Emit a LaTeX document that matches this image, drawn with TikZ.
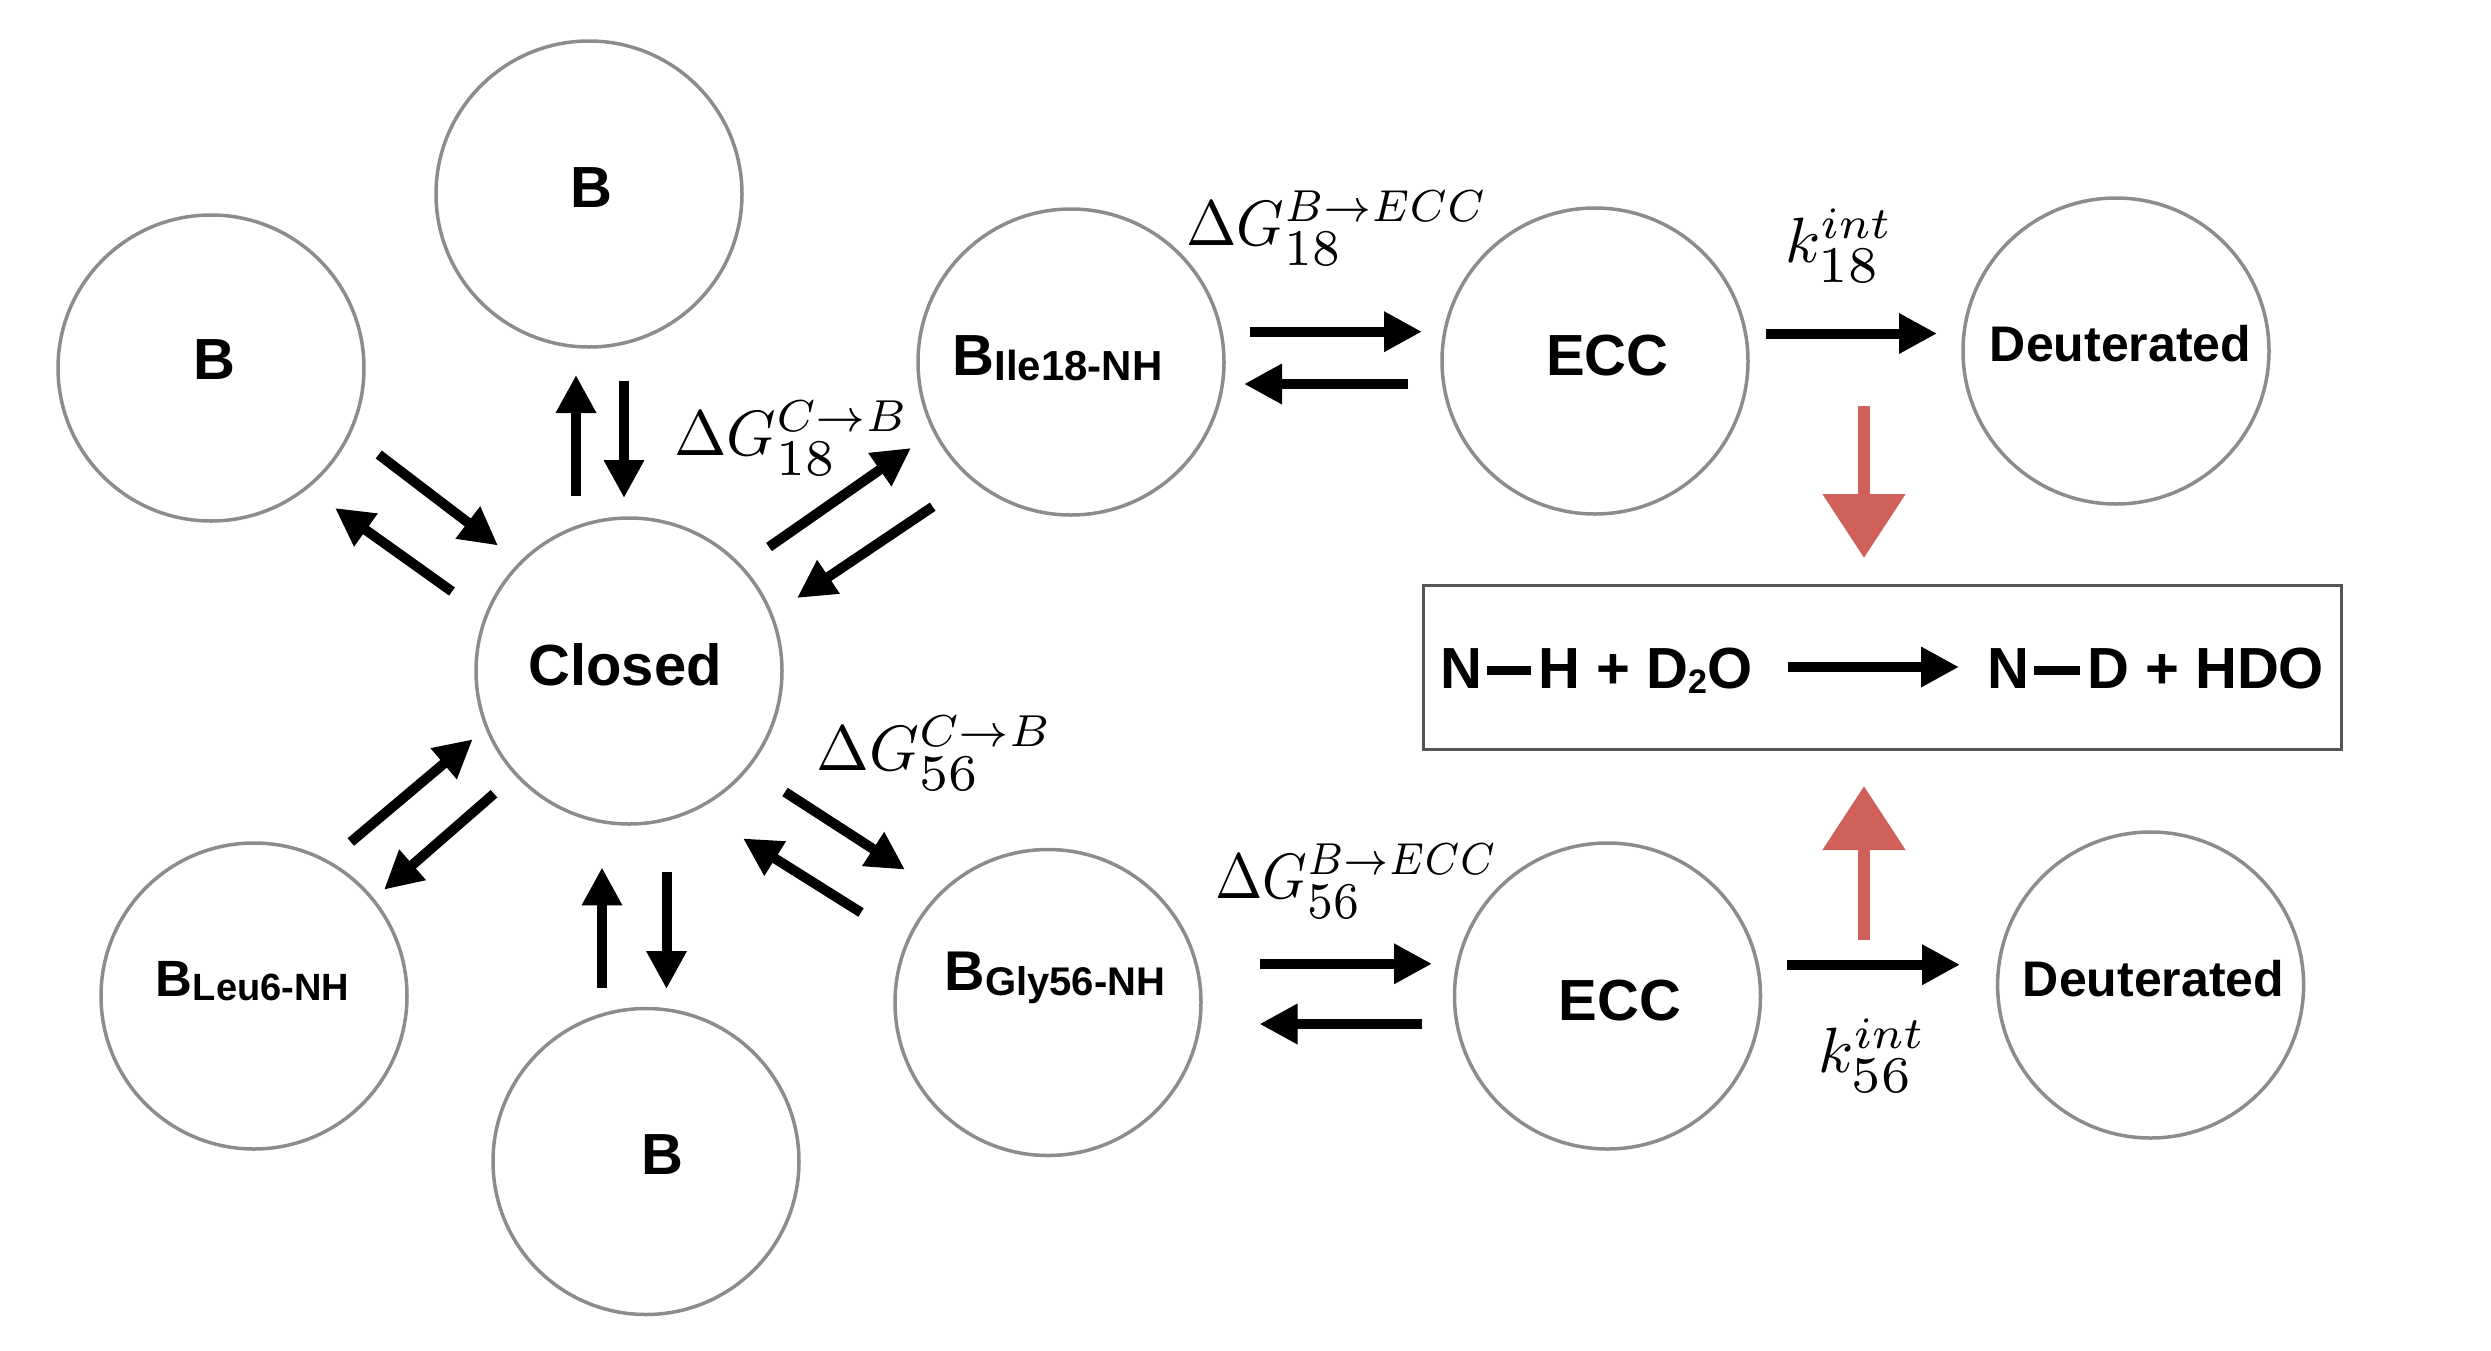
\documentclass[tikz,border=0pt]{standalone}
\usepackage[no-math]{fontspec}
\newfontfamily\hv{Liberation Sans}
\usetikzlibrary{arrows.meta}
\definecolor{circgray}{HTML}{8A8C90}
\definecolor{boxgray}{HTML}{555555}
\definecolor{redc}{HTML}{D0605A}
\tikzset{
  state/.style={circle, draw=circgray, line width=1.75pt, minimum size=153pt, inner sep=0pt},
  lbl/.style={anchor=base, inner sep=0pt, font=\hv\bfseries\fontsize{29}{34}\selectfont},
  dlbl/.style={anchor=base, inner sep=0pt, font=\hv\bfseries\fontsize{25}{30}\selectfont},
  arr/.style={line width=5pt, -{Triangle[length=19pt,width=19pt]}},
  redarr/.style={draw=redc, line width=6pt, -{Triangle[length=32pt,width=40pt]}},
  mlbl/.style={anchor=base west, inner sep=0pt},
}
\newcommand{\bigmath}[2][3.2]{\scalebox{#1}[3.2]{$#2$}}
\newcommand{\sbs}[1]{\scalebox{1.15}{$\scriptstyle #1$}}
\begin{document}
\begin{tikzpicture}[x=0.5pt, y=-0.5pt]
\useasboundingbox (0,0) rectangle (2491,1350);
% states
\node[state] (btop)  at (589,194) {};
\node[state] (bleft) at (211,368) {};
\node[state] (closed) at (629,671) {};
\node[state] (bile)  at (1071,362) {};
\node[state] (ecc1)  at (1595,361) {};
\node[state] (deut1) at (2116,351) {};
\node[state] (bleu)  at (254,996) {};
\node[state] (bbot)  at (646,1161.5) {};
\node[state] (bgly)  at (1048,1002.5) {};
\node[state] (ecc2)  at (1607.5,996) {};
\node[state] (deut2) at (2150.6,985) {};
% labels
\node[lbl] (tbtop) at (591,207) {B};
\node[lbl] (tbleft) at (214,379.5) {B};
\node[lbl] (tbbot) at (662,1174.5) {B};
\node[lbl] (tclosed) at (625,685) {Closed};
\node[lbl] (tecc1) at (1607.5,375) {ECC};
\node[lbl] (tecc2) at (1620,1020.5) {ECC};
\node[dlbl] (tdeut1) at (2120.5,361.5) {Deuterated};
\node[dlbl] (tdeut2) at (2153.5,996) {Deuterated};
\node[lbl] (tbile) at (1057.5,375) {B\raisebox{-2.5pt}{\fontsize{21}{25}\selectfont Ile18-NH}};
\node[lbl] (tbleu) at (252.5,996.7) {\fontsize{25.5}{30}\selectfont B\raisebox{-1.7pt}{\fontsize{19}{23}\selectfont Leu6-NH}};
\node[lbl] (tbgly) at (1055,990) {\fontsize{28}{33}\selectfont B\raisebox{-2.5pt}{\fontsize{20}{24}\selectfont Gly56-NH}};
% equation box
\node[draw=boxgray, line width=1.5pt, minimum width=459pt, minimum height=82pt, inner sep=0pt] (eqbox) at (1882.5,667.5) {};
\node[anchor=base west, inner sep=0pt, font=\hv\bfseries\fontsize{29}{34}\selectfont] (eql) at (1440,688)
  {N\kern2.5pt\rule[6.5pt]{22pt}{4.5pt}\kern3.5pt H + D\raisebox{-2.5pt}{\fontsize{17}{20}\selectfont 2}O};
\node[anchor=base west, inner sep=0pt, font=\hv\bfseries\fontsize{29}{34}\selectfont] (eqr) at (1987,688)
  {N\kern2.5pt\rule[6.5pt]{23pt}{4.5pt}\kern3.5pt D + HDO};
% math labels
\node[mlbl] (g1) at (674,455) {\bigmath[3.15]{\Delta G^{C\to B}_{\sbs{18}}}};
\node[mlbl] (g2) at (1186,245) {\bigmath[3.03]{\Delta G^{B\to ECC}_{\sbs{18}}}};
\node[mlbl] (g3) at (816,770) {\bigmath[3.17]{\Delta G^{C\to B}_{\sbs{56}}}};
\node[mlbl] (g4) at (1215,898) {\bigmath[2.84]{\Delta G^{B\to ECC}_{\sbs{56}}}};
\node[mlbl] (k1) at (1785,262) {\bigmath{k^{int}_{\sbs{18}}}};
\node[mlbl] (k2) at (1818,1072) {\bigmath{k^{int}_{\sbs{56}}}};
% arrow end points
\coordinate (a1s) at (576,495.5);  \coordinate (a1e) at (576,375);
\coordinate (a2s) at (624,381);    \coordinate (a2e) at (624,498);
\coordinate (a3s) at (378.7,454.5);\coordinate (a3e) at (498,545.5);
\coordinate (a4s) at (452,591.5);  \coordinate (a4e) at (335,508);
\coordinate (a5s) at (769,547);    \coordinate (a5e) at (911,448);
\coordinate (a6s) at (932.7,506.7);\coordinate (a6e) at (797,598);
\coordinate (a7s) at (350.8,842);  \coordinate (a7e) at (472.7,739.3);
\coordinate (a8s) at (494,793.75); \coordinate (a8e) at (384,889.7);
\coordinate (a9s) at (602,988.4);  \coordinate (a9e) at (602,867.4);
\coordinate (a10s) at (666.5,872); \coordinate (a10e) at (666.5,989);
\coordinate (a11s) at (785,792);   \coordinate (a11e) at (905,869.6);
\coordinate (a12s) at (861,912.5); \coordinate (a12e) at (743,838.4);
\coordinate (a13s) at (1250,331.7);\coordinate (a13e) at (1422,331.7);
\coordinate (a14s) at (1408,384);  \coordinate (a14e) at (1244,384);
\coordinate (a15s) at (1766,333.5);\coordinate (a15e) at (1937,333.5);
\coordinate (a16s) at (1259.5,963.8);\coordinate (a16e) at (1432,963.8);
\coordinate (a17s) at (1422,1024); \coordinate (a17e) at (1259.5,1024);
\coordinate (a18s) at (1787,964.7);\coordinate (a18e) at (1960,964.7);
\coordinate (a19s) at (1788,667);  \coordinate (a19e) at (1959,667);
\coordinate (r1s) at (1864,406);   \coordinate (r1e) at (1864,558);
\coordinate (r2s) at (1864,940);   \coordinate (r2e) at (1864,786);
\foreach \i in {1,...,19} {\draw[arr] (a\i s) -- (a\i e);}
\draw[redarr] (r1s) -- (r1e);
\draw[redarr] (r2s) -- (r2e);
\end{tikzpicture}
\end{document}
